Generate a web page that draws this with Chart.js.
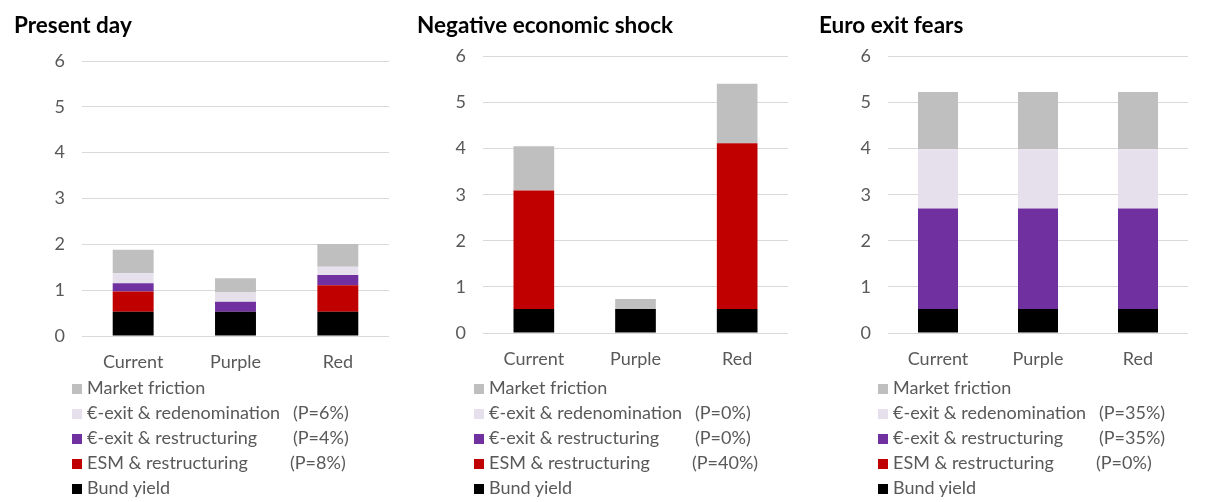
<!DOCTYPE html>
<html>
<head>
<meta charset="utf-8">
<script src="https://cdn.jsdelivr.net/npm/chart.js@4.4.1/dist/chart.umd.min.js"></script>
<style>
  body { margin: 0; background: #fff; width: 1208px; height: 502px; overflow: hidden; position: relative; font-family: Lato, "Open Sans", sans-serif; }
  canvas { position: absolute; top: 0; }
  .legend { position: absolute; top: 375px; color: #595959; font-size: 18px; }
  .legend .row { position: relative; height: 25px; line-height: 25px; white-space: nowrap; }
  .legend .box { display: inline-block; width: 10px; height: 10px; margin-right: 5px; vertical-align: 0px; }
  .legend .p { position: absolute; top: 0; }
</style>
</head>
<body>
<canvas id="chart1" width="400" height="380" style="left:0px"></canvas>
<canvas id="chart2" width="405" height="380" style="left:400px"></canvas>
<canvas id="chart3" width="403" height="380" style="left:805px"></canvas>
<div class="legend" id="legend1" style="left:72px"></div>
<div class="legend" id="legend2" style="left:474px"></div>
<div class="legend" id="legend3" style="left:878px"></div>
<script>
const categories = ["Current", "Purple", "Red"];
const yTicks = [0, 1, 2, 3, 4, 5, 6];

// series, bottom of the stack first
const seriesNames = ["Bund yield", "ESM & restructuring", "€-exit & restructuring", "€-exit & redenomination", "Market friction"];
const seriesColors = ["#000000", "#c00000", "#7030a0", "#e6e0ec", "#bfbfbf"];

// Present day
const bund1 = [0.53, 0.53, 0.53];
const esm1 = [0.44, 0, 0.58];
const exitRestr1 = [0.18, 0.22, 0.22];
const exitRedenom1 = [0.22, 0.20, 0.18];
const friction1 = [0.51, 0.31, 0.50];
const probs1 = [null, "(P=8%)", "(P=4%)", "(P=6%)", null];

// Negative economic shock
const bund2 = [0.52, 0.52, 0.52];
const esm2 = [2.57, 0, 3.60];
const exitRestr2 = [0, 0, 0];
const exitRedenom2 = [0, 0, 0];
const friction2 = [0.96, 0.22, 1.29];
const probs2 = [null, "(P=40%)", "(P=0%)", "(P=0%)", null];

// Euro exit fears
const bund3 = [0.52, 0.52, 0.52];
const esm3 = [0, 0, 0];
const exitRestr3 = [2.18, 2.18, 2.18];
const exitRedenom3 = [1.29, 1.29, 1.29];
const friction3 = [1.24, 1.24, 1.24];
const probs3 = [null, "(P=0%)", "(P=35%)", "(P=35%)", null];

const pOffsets = [0, 203, 206, 206, 0];

function makeChart(id, legendId, title, series, probs, pad) {
    const datasets = series.map((values, i) => ({
        label: seriesNames[i],
        data: values,
        backgroundColor: seriesColors[i],
        borderWidth: 0,
        categoryPercentage: 1,
        barPercentage: 0.4
    }));

    const chart = new Chart(document.getElementById(id), {
        type: "bar",
        data: { labels: categories, datasets: datasets },
        options: {
            responsive: false,
            animation: false,
            layout: { padding: { left: pad.left, right: pad.right, top: 0, bottom: 0 } },
            plugins: {
                legend: { display: false },
                tooltip: { enabled: false },
                title: {
                    display: true,
                    text: title,
                    align: "start",
                    color: "#000000",
                    font: { family: "Lato", size: 22.5, weight: "bold", lineHeight: 1.2 },
                    padding: { top: 12.5, bottom: pad.titleBottom }
                }
            },
            scales: {
                x: {
                    stacked: true,
                    grid: { display: false, drawTicks: false },
                    border: { display: false },
                    ticks: { color: "#595959", font: { family: "Lato", size: 18 }, padding: 15 },
                    afterFit: scale => { scale.height = pad.xHeight; }
                },
                y: {
                    stacked: true,
                    min: 0,
                    max: 6,
                    afterBuildTicks: scale => { scale.ticks = yTicks.map(v => ({ value: v })); },
                    grid: { color: "#d9d9d9", lineWidth: 1, drawTicks: false },
                    border: { display: false },
                    ticks: { color: "#595959", font: { family: "Lato", size: 18 }, padding: 17 },
                    afterFit: scale => { scale.width = pad.yWidth; }
                }
            }
        }
    });

    // legend list, top of the stack first
    const legendEl = document.getElementById(legendId);
    const items = Chart.defaults.plugins.legend.labels.generateLabels(chart);
    items.slice().reverse().forEach(item => {
        const i = item.datasetIndex;
        const row = document.createElement("div");
        row.className = "row";
        const box = document.createElement("span");
        box.className = "box";
        box.style.background = item.fillStyle;
        row.appendChild(box);
        row.appendChild(document.createTextNode(item.text));
        if (probs[i]) {
            const p = document.createElement("span");
            p.className = "p";
            p.style.left = (15 + pOffsets[i]) + "px";
            p.textContent = probs[i];
            row.appendChild(p);
        }
        legendEl.appendChild(row);
    });
    return chart;
}

makeChart("chart1", "legend1", "Present day",
    [bund1, esm1, exitRestr1, exitRedenom1, friction1], probs1,
    { left: 14, right: 11, yWidth: 68, titleBottom: 21.5, xHeight: 44 });
makeChart("chart2", "legend2", "Negative economic shock",
    [bund2, esm2, exitRestr2, exitRedenom2, friction2], probs2,
    { left: 17, right: 17, yWidth: 66, titleBottom: 17, xHeight: 47 });
makeChart("chart3", "legend3", "Euro exit fears",
    [bund3, esm3, exitRestr3, exitRedenom3, friction3], probs3,
    { left: 14, right: 20, yWidth: 69, titleBottom: 17, xHeight: 47 });
</script>
</body>
</html>
